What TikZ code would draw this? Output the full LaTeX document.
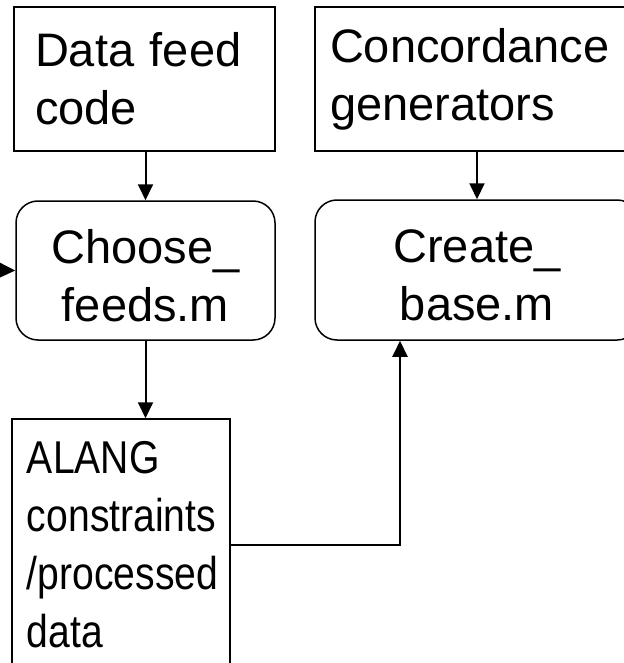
\documentclass[tikz,border=0pt]{standalone}
\usepackage{fontspec}
\setmainfont{Liberation Sans}
\newfontfamily\narrowfont[FakeStretch=0.85]{Liberation Sans}
\usetikzlibrary{arrows.meta}
\newcommand{\toplift}{\rule{0pt}{44pt}}
\tikzset{
  boxtext/.style={font=\fontsize{47}{58}\selectfont},
  plainbox/.style={draw, line width=1.5pt, inner sep=0pt, boxtext},
  roundbox/.style={plainbox, rounded corners=22pt, align=center},
  flow/.style={line width=2pt, -{Triangle[length=16pt,width=15pt]}},
}
\begin{document}
\begin{tikzpicture}[x=1pt,y=-1pt]
  \useasboundingbox (0,0) rectangle (623,663);

  % source boxes
  \node[plainbox, minimum width=261pt, minimum height=144pt,
        text width=219pt, align=left] (feedcode) at (144.5,79)
        {Data feed\\code};
  \node[plainbox, minimum width=324pt, minimum height=144pt,
        text width=294pt, align=left] (concord) at (477,79)
        {Concordance\\generators};

  % processing scripts
  \node[roundbox, minimum width=259pt, minimum height=139pt] (choose) at (145.5,270.5)
        {\toplift Choose\_\\feeds.m};
  \node[roundbox, minimum width=324pt, minimum height=140pt] (create) at (477,270)
        {\toplift Create\_\\base.m};

  % intermediate result
  \node[plainbox, minimum width=218pt, minimum height=252pt,
        text width=188pt, align=left, font=\narrowfont\fontsize{46}{58}\selectfont]
        (alang) at (121,545)
        {ALANG\\constraints\\/processed\\data};

  % connectors
  \coordinate (feedin) at (-10,270);
  \draw[flow] (feedin) -- (choose.west);
  \draw[flow] (feedcode.south -| choose.north) -- (choose.north);
  \draw[flow] (concord.south) -- (create.south |- create.north);
  \draw[flow] (choose.south) -- (choose.south |- alang.north);
  \draw[flow] (alang.east) -| ([xshift=-77pt]create.south);
\end{tikzpicture}
\end{document}
